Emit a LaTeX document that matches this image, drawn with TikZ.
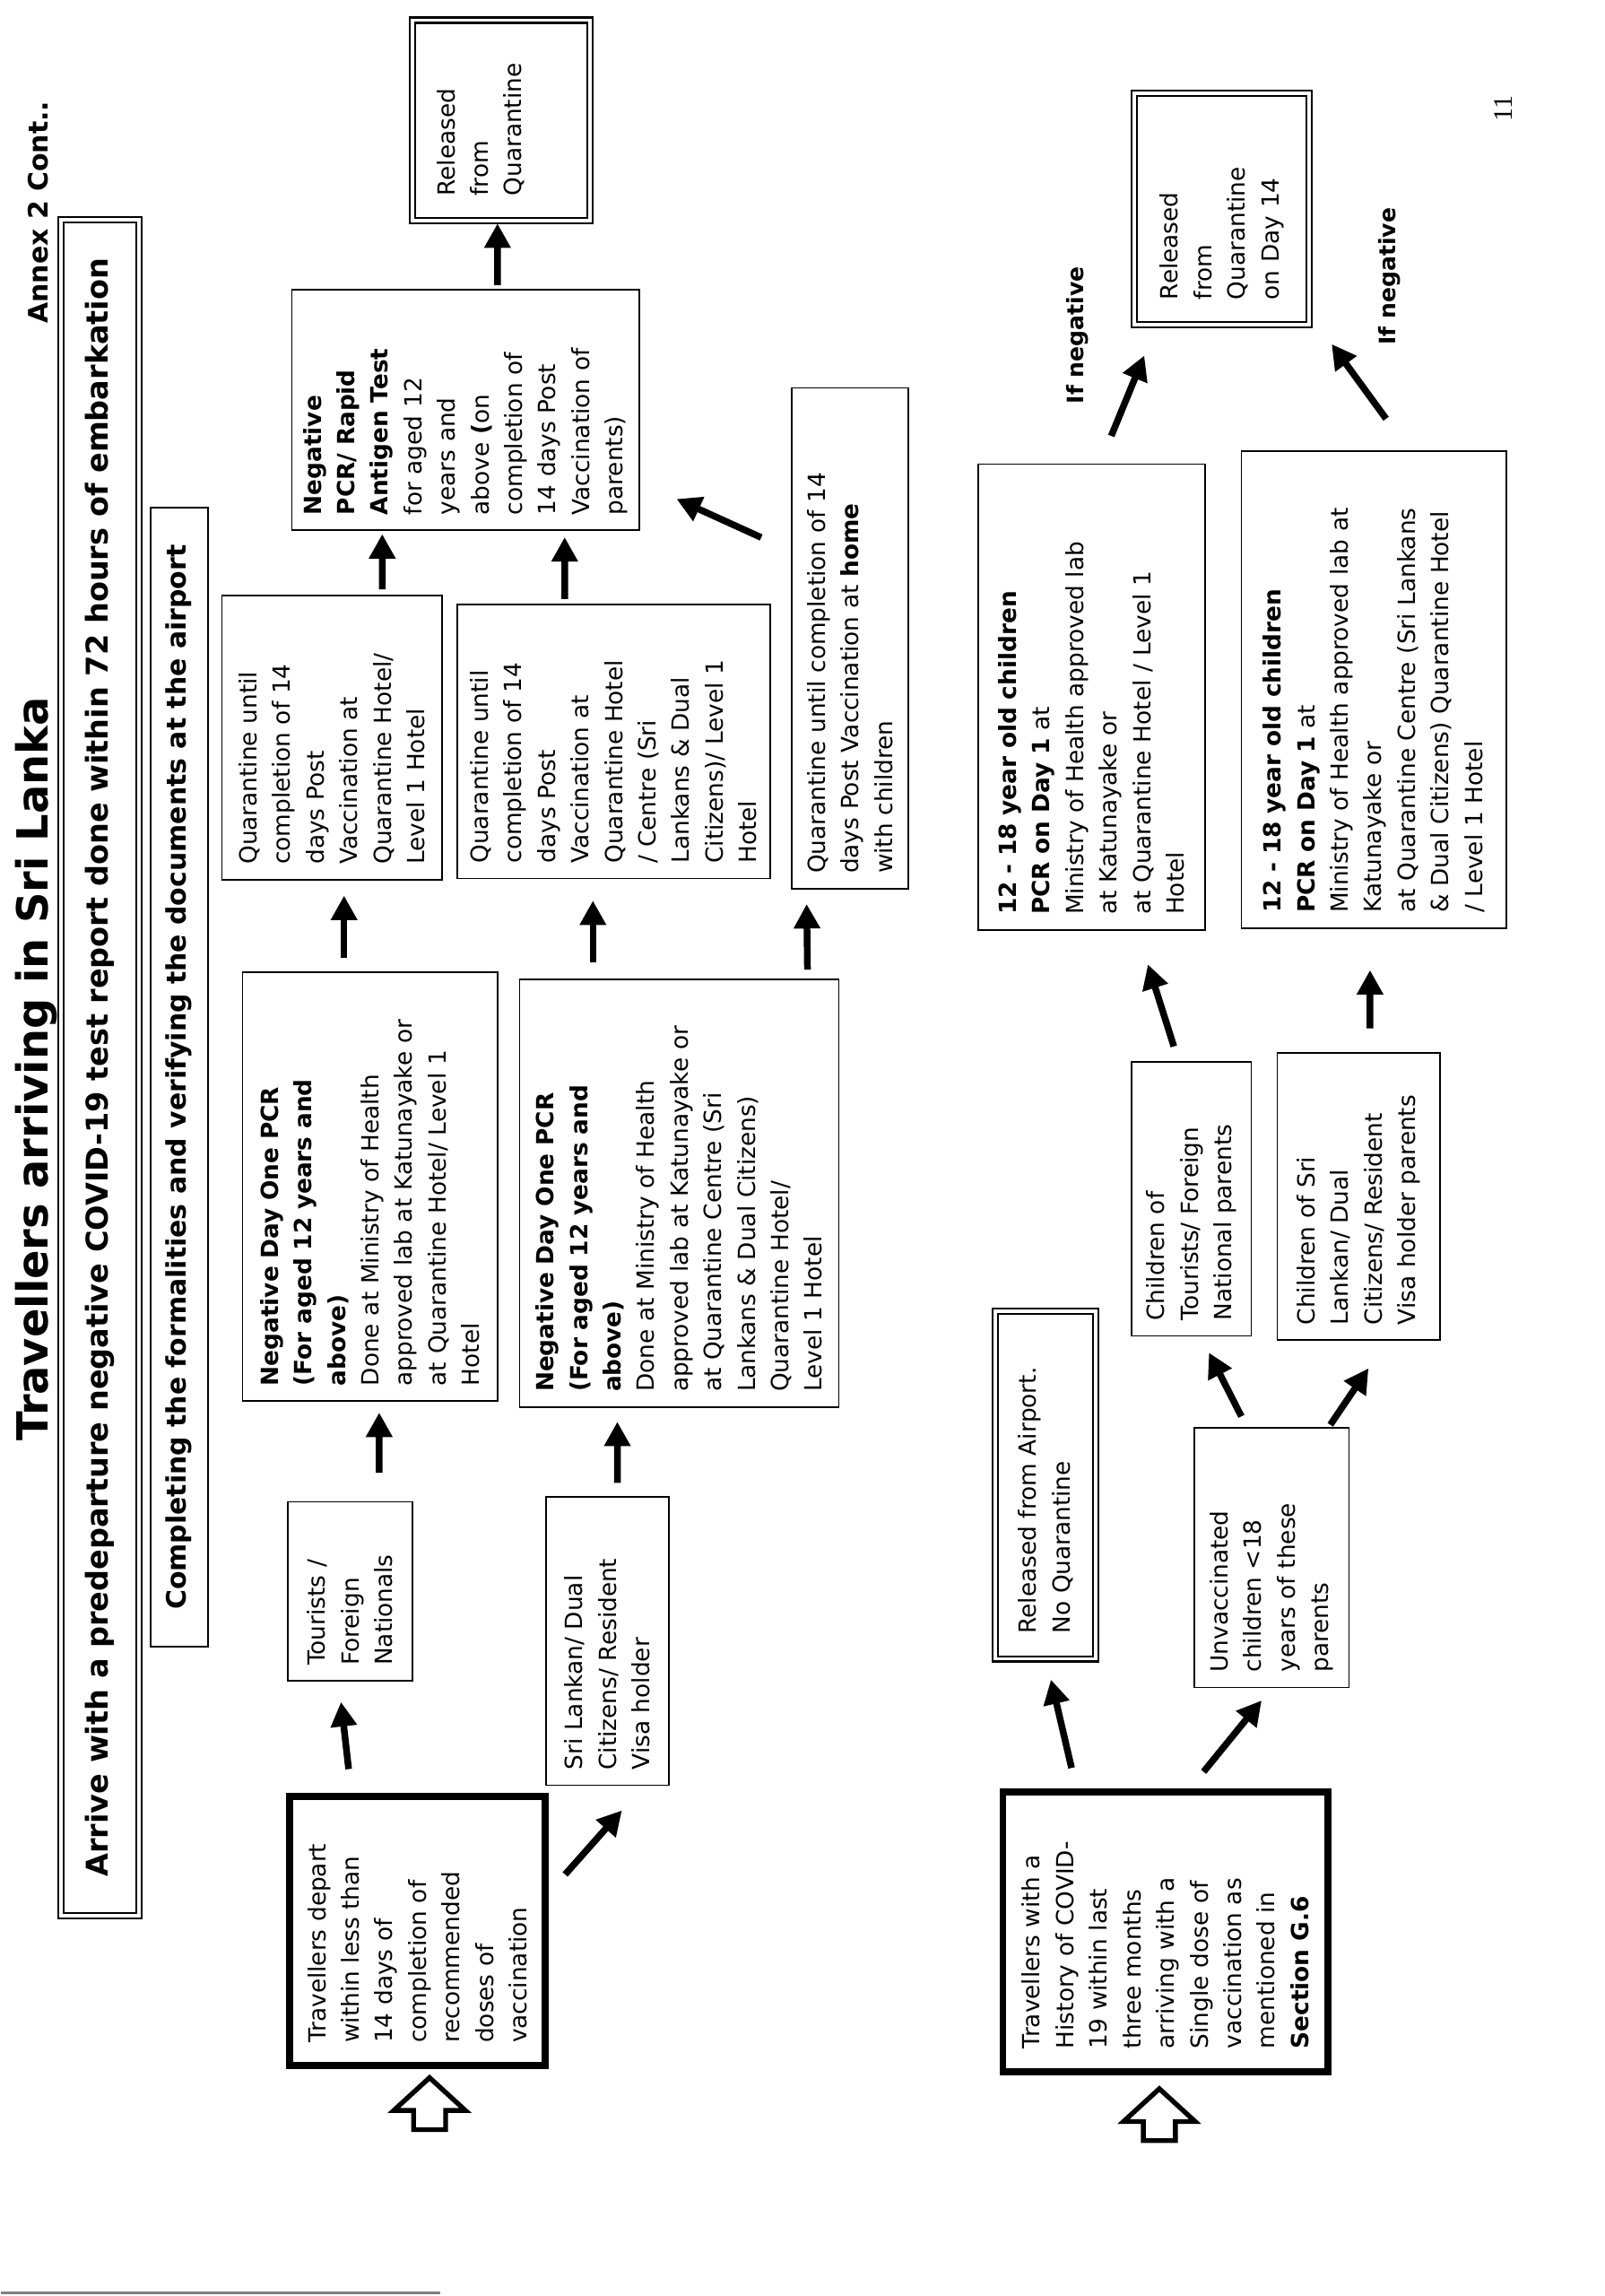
\documentclass[tikz,border=0pt]{standalone}
\usepackage{fontspec}
\setmainfont{DejaVu Sans}
\newfontfamily\pagefont{Liberation Serif}
\usetikzlibrary{arrows.meta, calc}
\tikzset{
  every picture/.style={line width=0.6pt},
  box/.style={draw, line width=0.6pt, align=left, inner xsep=0.2cm, inner ysep=4pt, font=\fontsize{8.8}{12.5}\selectfont},
  startbox/.style={box, line width=2.6pt, inner xsep=0.3cm},
  endbox/.style={box, double, line width=0.7pt, double distance=1.3pt, inner xsep=0.33cm},
  arrow/.style={-{Triangle[length=3.2mm, width=3.3mm]}, line width=2.5pt},
  heading/.style={font=\bfseries\fontsize{10}{12}\selectfont},
}
\begin{document}
\begin{tikzpicture}[
  hollow/.style={line width=1.8pt, line join=miter},
  note/.style={font=\bfseries\fontsize{8.4}{10}\selectfont}]
  \fill[white] (-21,0) rectangle (0,30.07);
  \begin{scope}[rotate=90, transform shape]
  % page edge
  \draw[gray, line width=1pt] (0.04,15.25) -- (0.04,21);
  % headings
  \node[font=\bfseries\fontsize{16}{19}\selectfont] (title) at (16.07,20.54) {Travellers arriving in Sri Lanka};
  \node[heading] (annex) at (27.29,20.52) {Annex 2 Cont..};
  \node[font=\pagefont\fontsize{10}{12}\selectfont] (pageno) at (28.65,1.32) {11};
  \node[endbox, font=\bfseries\fontsize{11.2}{13}\selectfont, minimum width=22.21cm, minimum height=1.02cm] (arrive) at (16.09,19.71)
    {Arrive with a predeparture negative COVID-19 test report done within 72 hours of embarkation};
  \node[box, heading, minimum width=14.92cm, minimum height=0.75cm] (formal) at (15.96,18.67)
    {Completing the formalities and verifying the documents at the airport};
  % fully vaccinated less than 14 days
  \node[startbox, text width=2.93cm, minimum height=3.34cm] (A) at (4.78,15.55)
    {Travellers depart\\within less than\\14 days of\\completion of\\recommended\\doses of\\vaccination};
  \node[box, text width=1.94cm, minimum height=1.63cm] (tour) at (9.23,16.43) {Tourists /\\Foreign\\Nationals};
  \node[box, text width=3.38cm, minimum height=1.61cm] (slk) at (8.58,13.06) {Sri Lankan/ Dual\\Citizens/ Resident\\Visa holder};
  \node[box, text width=5.22cm, minimum height=3.34cm] (negA) at (14.53,16.17)
    {\textbf{Negative Day One PCR}\\\textbf{(For aged 12 years and}\\\textbf{above)}\\Done at Ministry of Health\\approved lab at Katunayake or\\at Quarantine Hotel/ Level 1\\Hotel};
  \node[box, text width=5.20cm, minimum height=4.18cm] (negB) at (14.44,12.12)
    {\textbf{Negative Day One PCR}\\\textbf{(For aged 12 years and}\\\textbf{above)}\\Done at Ministry of Health\\approved lab at Katunayake or\\at Quarantine Centre (Sri\\Lankans \& Dual Citizens)\\Quarantine Hotel/\\Level 1 Hotel};
  \node[box, text width=3.32cm, minimum height=2.88cm] (quarA) at (20.41,16.67)
    {Quarantine until\\completion of 14\\days Post\\Vaccination at\\Quarantine Hotel/\\Level 1 Hotel};
  \node[box, text width=3.19cm, minimum height=4.10cm] (quarB) at (20.36,12.98)
    {Quarantine until\\completion of 14\\days Post\\Vaccination at\\Quarantine Hotel\\/ Centre (Sri\\Lankans \& Dual\\Citizens)/ Level 1\\Hotel};
  \node[box, text width=6.16cm, minimum height=1.53cm] (home) at (21.71,9.88)
    {Quarantine until completion of 14\\days Post Vaccination at \textbf{home}\\with children};
  \node[box, text width=2.75cm, minimum height=4.55cm] (test) at (24.70,14.92)
    {\textbf{Negative}\\\textbf{PCR/ Rapid}\\\textbf{Antigen Test}\\for aged 12\\years and\\above \textbf{(}on\\completion of\\14 days Post\\Vaccination of\\parents)};
  \node[endbox, text width=1.97cm, minimum height=2.32cm] (rel1) at (28.49,14.45) {Released\\from\\Quarantine\\[4pt]\mbox{}};
  % history of covid-19
  \node[startbox, text width=3.06cm, minimum height=4.26cm] (B) at (4.77,5.75)
    {Travellers with a\\History of COVID-\\19 within last\\three months\\arriving with a\\Single dose of\\vaccination as\\mentioned in\\\textbf{Section G.6}};
  \node[endbox, text width=3.89cm, minimum height=1.32cm] (airport) at (10.62,7.32) {Released from Airport.\\No Quarantine};
  \node[box, text width=3.00cm, minimum height=2.03cm] (unvac) at (9.67,4.36) {Unvaccinated\\children <18\\years of these\\parents};
  \node[box, text width=3.19cm, minimum height=1.57cm] (chtour) at (14.37,5.41) {Children of\\Tourists/ Foreign\\National parents};
  \node[box, text width=3.36cm, minimum height=2.13cm] (chsl) at (14.40,3.22) {Children of Sri\\Lankan/ Dual\\Citizens/ Resident\\Visa holder parents};
  \node[box, text width=5.70cm, minimum height=2.97cm] (kidA) at (20.94,6.72)
    {\textbf{12 - 18 year old children}\\\textbf{PCR on Day 1} at\\Ministry of Health approved lab\\at Katunayake or\\at Quarantine Hotel / Level 1\\Hotel};
  \node[box, text width=5.85cm, minimum height=3.47cm] (kidB) at (21.04,3.02)
    {\textbf{12 - 18 year old children}\\\textbf{PCR on Day 1} at\\Ministry of Health approved lab at\\Katunayake or\\at Quarantine Centre (Sri Lankans\\\& Dual Citizens) Quarantine Hotel\\/ Level 1 Hotel};
  \node[endbox, text width=2.37cm, minimum height=2.29cm] (rel2) at (27.33,5.01) {Released\\from\\Quarantine\\on Day 14};
  \node[note] (ifnegA) at (25.68,6.90) {If negative};
  \node[note] (ifnegB) at (26.45,2.81) {If negative};
  % entry arrows
  \foreach \n/\dx/\dv in {A/-0.11/-0.16, B/-0.18/0.08}
    \draw[hollow] ($(\n.west)+(\dx,\dv)$) -- ++(-0.43,0.47) -- ++(0,-0.26) -- ++(-0.25,0) -- ++(0,-0.42) -- ++(0.25,0) -- ++(0,-0.26) -- cycle;
  % upper flow
  \draw[arrow] ($(A.east)+(0.31,0.90)$) -- ($(tour.west)+(-0.27,0.12)$);
  \draw[arrow] ($(A.south east)+(-1.07,-0.22)$) -- ($(slk.west)+(-0.32,-0.19)$);
  \draw[arrow] ($(tour.east)+(0.37,-0.38)$) -- ($(negA.west)+(-0.14,-0.12)$);
  \draw[arrow] ($(slk.east)+(0.17,-0.13)$) -- ($(negB.west)+(-0.18,0.81)$);
  \draw[arrow] ($(negA.east)+(0.17,0.34)$) -- ($(quarA.west)+(-0.20,-0.16)$);
  \draw[arrow] ($(negB.east)+(0.21,1.13)$) -- ($(quarB.west)+(-0.28,0.27)$);
  \draw[arrow] ($(negB.south east)+(0.12,0.42)$) -- ($(home.west)+(-0.19,0.57)$);
  \draw[arrow] ($(quarA.east)+(0.07,-0.66)$) -- ($(test.west)+(-0.04,1.09)$);
  \draw[arrow] ($(quarB.east)+(0.06,0.64)$) -- ($(test.west)+(-0.08,-1.30)$);
  \draw[arrow] ($(home.north east)+(-1.97,0.39)$) -- ($(test.south west)+(0.42,-0.48)$);
  \draw[arrow] ($(test.east)+(0.05,-0.42)$) -- ($(rel1.west)+(-0.02,0.05)$);
  % lower flow
  \draw[arrow] ($(B.east)+(0.27,1.23)$) -- ($(airport.west)+(-0.26,-0.07)$);
  \draw[arrow] ($(B.east)+(0.22,-0.50)$) -- ($(unvac.west)+(-0.16,0.13)$);
  \draw[arrow] ($(unvac.north east)+(0.14,-0.63)$) -- ($(chtour.west)+(-0.21,-0.23)$);
  \draw[arrow] ($(unvac.east)+(0.03,-0.77)$) -- ($(chsl.west)+(-0.36,-0.13)$);
  \draw[arrow] ($(chtour.east)+(0.19,0.23)$) -- ($(kidA.west)+(-0.44,-0.74)$);
  \draw[arrow] ($(chsl.east)+(0.31,-0.15)$) -- ($(kidB.west)+(-0.54,0.05)$);
  \draw[arrow] ($(kidA.east)+(0.36,-0.26)$) -- ($(rel2.north west)+(-0.39,-0.14)$);
  \draw[arrow] ($(kidB.east)+(0.41,-0.16)$) -- ($(rel2.south west)+(-0.24,-0.28)$);
  \end{scope}
\end{tikzpicture}
\end{document}
